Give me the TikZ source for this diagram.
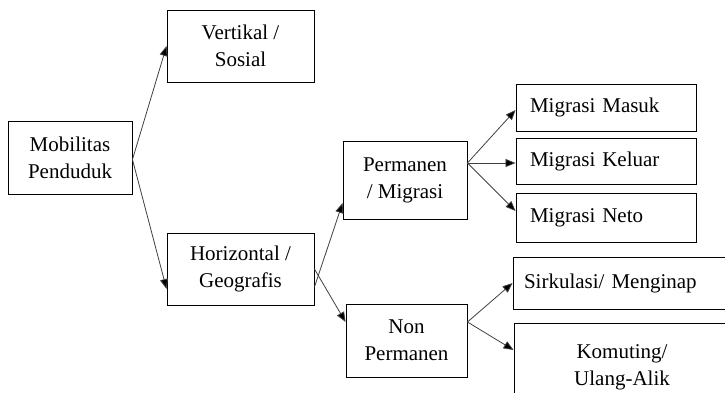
\documentclass[tikz,border=0pt]{standalone}
\usepackage{fontspec}
\setmainfont{Liberation Serif}
\usetikzlibrary{arrows.meta}
\tikzset{
  box/.style={draw=black, line width=0.9pt, inner sep=0pt, align=center,
    font=\fontsize{21}{27}\selectfont},
  leftbox/.style={box, align=left},
  link/.style={draw=black!75, line width=0.8pt,
    -{Triangle[length=10pt,width=8pt,fill=black]}}
}
\begin{document}
\begin{tikzpicture}[x=1pt, y=-1pt]
\useasboundingbox (0,0) rectangle (725,392);
\clip (0,0) rectangle (725,392);

% first level
\node[box, minimum width=124pt, minimum height=73pt] (mob) at (70,158) {Mobilitas\\Penduduk};

% second level
\node[box, minimum width=147pt, minimum height=72pt] (vert) at (240.5,46) {Vertikal /\\Sosial};
\node[box, minimum width=147pt, minimum height=72pt] (hor) at (240.5,269) {Horizontal /\\Geografis};

% third level
\node[box, minimum width=124pt, minimum height=78pt] (perm) at (405,180) {Permanen\\/ Migrasi};
\node[box, minimum width=121pt, minimum height=73pt] (non) at (406.5,340.5) {Non\\Permanen};

% fourth level
\node[leftbox, text width=152pt, inner xsep=14pt, minimum height=47pt] (masuk) at (606,107.5) {Migrasi Masuk};
\node[leftbox, text width=152pt, inner xsep=14pt, minimum height=46pt] (keluar) at (606,161) {Migrasi Keluar};
\node[leftbox, text width=152pt, inner xsep=14pt, minimum height=49pt] (neto) at (606,217.5) {Migrasi Neto};
\node[leftbox, text width=204pt, inner xsep=11pt, minimum height=52pt] (sirk) at (626,283) {Sirkulasi/ Menginap};
\node[box, minimum width=216pt, minimum height=88pt] (kom) at (622,367) {Komuting/\\Ulang-Alik};

% connectors
\draw[link] ([yshift=-1.5pt]mob.east) -- (vert.west);
\draw[link] ([yshift=-1.5pt]mob.east) -- ([yshift=-20pt]hor.west);
\draw[link] ([yshift=-18pt]hor.east) -- ([yshift=-23pt]perm.west);
\draw[link] (hor.east) -- ([yshift=18.5pt]non.west);
\draw[link] ([yshift=17pt]perm.east) -- ([yshift=-2.5pt]masuk.west);
\draw[link] ([yshift=17pt]perm.east) -- ([yshift=-2pt]keluar.west);
\draw[link] ([yshift=17pt]perm.east) -- ([yshift=6.5pt]neto.west);
\draw[link] ([yshift=18.5pt]non.east) -- (sirk.west);
\draw[link] ([yshift=18.5pt]non.east) -- ([yshift=17pt]kom.west);
\end{tikzpicture}
\end{document}
